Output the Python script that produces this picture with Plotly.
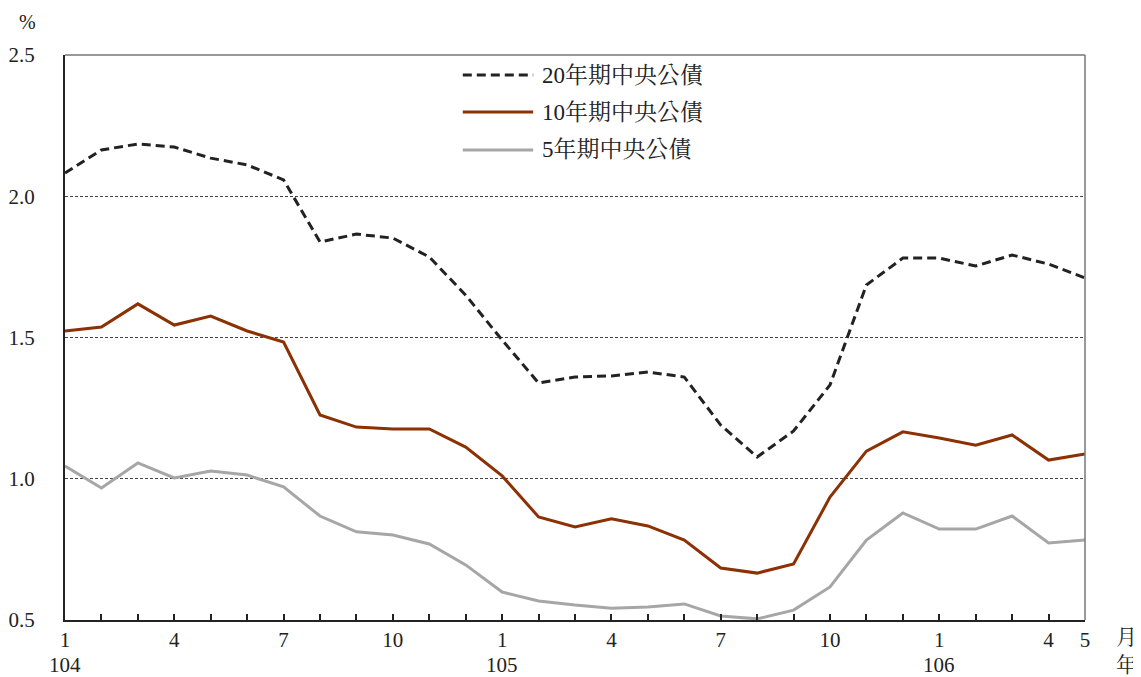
import plotly.graph_objects as go

months = list(range(29))
tick_text = ["1", "", "", "4", "", "", "7", "", "", "10", "", "",
             "1", "", "", "4", "", "", "7", "", "", "10", "", "",
             "1", "", "", "4", "5"]
year_pos = [0, 12, 24]
year_text = ["104", "105", "106"]

bond20 = [2.082, 2.164, 2.185, 2.174, 2.135, 2.111, 2.058, 1.838, 1.866, 1.852,
          1.785, 1.650, 1.491, 1.339, 1.360, 1.364, 1.378, 1.360, 1.190, 1.077,
          1.169, 1.332, 1.686, 1.781, 1.781, 1.753, 1.792, 1.760, 1.711]
bond10 = [1.523, 1.537, 1.619, 1.544, 1.576, 1.523, 1.484, 1.226, 1.183, 1.176,
          1.176, 1.112, 1.010, 0.865, 0.829, 0.858, 0.833, 0.783, 0.684, 0.666,
          0.698, 0.935, 1.098, 1.166, 1.144, 1.119, 1.155, 1.066, 1.088]
bond5 = [1.045, 0.967, 1.056, 1.003, 1.027, 1.013, 0.971, 0.868, 0.812, 0.801,
         0.769, 0.695, 0.599, 0.567, 0.553, 0.542, 0.546, 0.557, 0.514, 0.504,
         0.535, 0.617, 0.783, 0.879, 0.822, 0.822, 0.868, 0.773, 0.783]

names = ["20年期中央公債", "10年期中央公債", "5年期中央公債"]
colors = ["#222222", "#8B3103", "#A6A6A6"]
dashes = ["9px,5px", "solid", "solid"]

FONT = "Liberation Serif, Noto Serif CJK TC, Noto Sans CJK TC, serif"

fig = go.Figure()
for name, ys, c, d in zip(names, [bond20, bond10, bond5], colors, dashes):
    fig.add_trace(go.Scatter(x=months, y=ys, mode="lines", name=name,
                             line=dict(color=c, width=3, dash=d),
                             showlegend=False))

# custom legend
leg_y = [0.9646, 0.899, 0.832]
for name, c, d, ly in zip(names, colors, dashes, leg_y):
    fig.add_shape(type="line", xref="paper", yref="paper",
                  x0=0.390, x1=0.459, y0=ly, y1=ly,
                  line=dict(color=c, width=3, dash=d))
    fig.add_annotation(xref="paper", yref="paper", x=0.4657, y=ly,
                       text=name, showarrow=False, xanchor="left", yanchor="middle",
                       font=dict(size=23, color="#222222", family=FONT))

# top and right border
fig.add_shape(type="line", xref="paper", yref="paper", x0=0, x1=1, y0=1, y1=1,
              line=dict(color="#333333", width=1))
fig.add_shape(type="line", xref="paper", yref="paper", x0=1, x1=1, y0=0, y1=1,
              line=dict(color="#777777", width=1.5))

# year labels
for xp, yt in zip(year_pos, year_text):
    fig.add_annotation(xref="x", yref="paper", x=xp, y=-0.0796, text=yt,
                       showarrow=False, xanchor="center", yanchor="middle",
                       font=dict(size=21, color="#222222", family=FONT))

fig.add_annotation(xref="paper", yref="paper", x=-0.0363, y=1.058, text="%",
                   showarrow=False, xanchor="center", yanchor="middle",
                   font=dict(size=20, color="#222222", family=FONT))
fig.add_annotation(xref="paper", yref="paper", x=1.041, y=-0.030, text="月",
                   showarrow=False, xanchor="center", yanchor="middle",
                   font=dict(size=21, color="#222222", family=FONT))
fig.add_annotation(xref="paper", yref="paper", x=1.041, y=-0.0796, text="年",
                   showarrow=False, xanchor="center", yanchor="middle",
                   font=dict(size=21, color="#222222", family=FONT))

fig.update_layout(
    width=1133, height=669,
    margin=dict(l=57, r=56, t=47, b=57),
    paper_bgcolor="white", plot_bgcolor="white",
    font=dict(family=FONT, size=21, color="#222222"),
    xaxis=dict(range=[0, 28], tickvals=months, ticktext=tick_text,
               ticks="inside", ticklen=6, tickwidth=1.5, tickcolor="#222222",
               showline=True, linecolor="#222222", linewidth=2, automargin=False,
               showgrid=False, zeroline=False, fixedrange=True),
    yaxis=dict(range=[0.5, 2.5], tickvals=[0.5, 1.0, 1.5, 2.0, 2.5],
               tickformat=".1f", ticks="", ticklabelstandoff=24, automargin=False,
               showline=True, linecolor="#222222", linewidth=2,
               showgrid=True, gridcolor="#444444", gridwidth=1, griddash="3px,2px",
               zeroline=False, fixedrange=True),
)

fig.write_html("out.html")
